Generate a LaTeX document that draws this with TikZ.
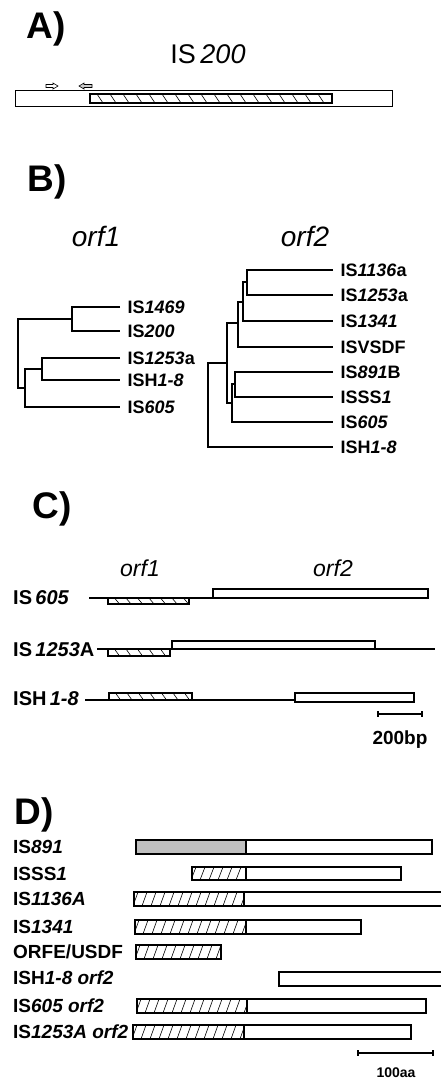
\documentclass[tikz,border=0pt]{standalone}
\usepackage{fontspec}
\setmainfont{Liberation Sans}
\usepackage{tikz}
\usetikzlibrary{positioning,calc}

\tikzset{
  panel/.style={font=\fontsize{37}{37}\selectfont\bfseries, inner sep=0pt},
  orfname/.style={font=\fontsize{28}{28}\selectfont, inner sep=0pt},
  leaf/.style={font=\fontsize{18}{18}\selectfont\bfseries, anchor=west, inner xsep=7.5pt, inner ysep=0pt, text height=13pt, text depth=0pt},
  mapname/.style={font=\fontsize{20}{20}\selectfont\bfseries, anchor=west, inner sep=0pt, text height=14.3pt, text depth=0pt},
  protname/.style={font=\fontsize{19}{19}\selectfont\bfseries, anchor=west, inner sep=0pt, text height=13.6pt, text depth=0pt},
  branch/.style={line width=1.1pt},
  gene/.style={line width=1.1pt},
  hatchline/.style={line width=0.6pt},
}

% hatched box: (x1,y1) (x2,y2), spacing, slant (+ is \, - is /)
\newcommand{\hatchbox}[6]{%
  \begin{scope}
    \clip (#1,#2) rectangle (#3,#4);
    \pgfmathsetmacro{\hfirst}{#1-abs(#6)}
    \pgfmathsetmacro{\hsecond}{\hfirst+#5}
    \pgfmathsetmacro{\hlast}{#3+abs(#6)}
    \foreach \hx in {\hfirst,\hsecond,...,\hlast}
      \draw[hatchline] (\hx,#2) -- ++(#6,#4-#2);
  \end{scope}
  \draw[gene] (#1,#2) rectangle (#3,#4);
}

\begin{document}
\begin{tikzpicture}[x=1pt,y=-1pt]
\useasboundingbox (0,0) rectangle (441,1080);

% A) IS200
\node[panel] (labA) at (46,29) {A)};
\node[orfname, font=\fontsize{27}{27}\selectfont] (is200) at (208,54) {IS\,\textit{200}};
\draw[line width=0.6pt, fill=white] (46,84.5) -- (53,84.5) -- (53,83) -- (58,86) -- (53,89) -- (53,87.5) -- (46,87.5) -- cycle;
\draw[line width=0.6pt, fill=black!20] (92,84.5) -- (84,84.5) -- (84,83) -- (79,86) -- (84,89) -- (84,87.5) -- (92,87.5) -- cycle;
\draw[gene, line width=0.9pt] (15,90) rectangle (392,106);
\hatchbox{90}{94}{332}{103}{13}{6}

% B) trees
\node[panel] (labB) at (47,182) {B)};
\node[orfname] (orf1B) at (96,236) {\itshape orf1};
\node[orfname] (orf2B) at (305,236) {\itshape orf2};

\node[leaf] (lf1469) at (120,307) {IS\textit{1469}};
\node[leaf] (lf200) at (120,331) {IS\textit{200}};
\node[leaf] (lf1253) at (120,358) {IS\textit{1253}a};
\node[leaf] (lfH18) at (120,380) {ISH\textit{1-8}};
\node[leaf] (lf605) at (120,407) {IS\textit{605}};

\coordinate (b1) at (72,319);
\coordinate (b2) at (42,369);
\coordinate (b3) at (25,388);
\coordinate (broot) at (18,353);
\draw[branch] (lf1469.west) -| (b1) |- (lf200.west);
\draw[branch] (lf1253.west) -| (b2) |- (lfH18.west);
\draw[branch] (b2) -| (b3) |- (lf605.west);
\draw[branch] (b1) -| (broot) |- (b3);

\node[leaf] (rt1136) at (333,270) {IS\textit{1136}a};
\node[leaf] (rt1253) at (333,295) {IS\textit{1253}a};
\node[leaf] (rt1341) at (333,321) {IS\textit{1341}};
\node[leaf] (rtVSDF) at (333,347) {ISVSDF};
\node[leaf] (rt891) at (333,372) {IS\textit{891}B};
\node[leaf] (rtSSS1) at (333,397) {ISSS\textit{1}};
\node[leaf] (rt605) at (333,422) {IS\textit{605}};
\node[leaf] (rtH18) at (333,447) {ISH\textit{1-8}};

\coordinate (c1) at (247,282);
\coordinate (c2) at (243,302);
\coordinate (c3) at (238,323);
\coordinate (c4) at (235,384);
\coordinate (c5) at (232,403);
\coordinate (c6) at (227,363);
\coordinate (c7) at (208,405);
\draw[branch] (rt1136.west) -| (c1) |- (rt1253.west);
\draw[branch] (c1) -| (c2) |- (rt1341.west);
\draw[branch] (c2) -| (c3) |- (rtVSDF.west);
\draw[branch] (rt891.west) -| (c4) |- (rtSSS1.west);
\draw[branch] (c4) -| (c5) |- (rt605.west);
\draw[branch] (c3) -| (c6) |- (c5);
\draw[branch] (c6) -| (c7) |- (rtH18.west);

% C) maps
\node[panel] (labC) at (52,509) {C)};
\node[orfname, font=\fontsize{23}{23}\selectfont] (orf1C) at (140,568) {\itshape orf1};
\node[orfname, font=\fontsize{23}{23}\selectfont] (orf2C) at (333,568) {\itshape orf2};

\node[mapname] (map605) at (13,597) {IS\,\textit{605}};
\draw[gene] (89,598) -- (213,598);
\hatchbox{108}{598}{189}{604}{11.5}{5}
\draw[gene] (213,589) rectangle (428,598);

\node[mapname] (map1253) at (13,649) {IS\,\textit{1253}A};
\draw[gene] (97,649) -- (435,649);
\hatchbox{108}{649}{170}{656}{11.5}{5}
\draw[gene] (172,641) rectangle (375,649);

\node[mapname] (mapH18) at (13,698) {ISH\,\textit{1-8}};
\draw[gene] (85,700) -- (295,700);
\hatchbox{109}{693}{192}{700}{11.5}{5}
\draw[gene] (295,693) rectangle (414,702);

\coordinate (bar200) at (400,714);
\draw[gene] (378,714) -- (422,714);
\draw[gene] (378,711) -- (378,717);
\draw[gene] (422,711) -- (422,717);
\node[font=\fontsize{19}{19}\selectfont\bfseries, inner sep=0pt, text height=13.6pt, text depth=0pt, below=17pt of bar200] (bp200) {200bp};

% D) proteins
\node[panel] (labD) at (34,815) {D)};

\node[protname] (pr891) at (13,847) {IS\textit{891}};
\draw[gene, fill=black!25] (136,840) rectangle (246,854);
\draw[gene] (246,840) rectangle (432,854);

\node[protname] (prSSS1) at (13,874) {ISSS\textit{1}};
\hatchbox{192}{867}{246}{880}{9}{-5}
\draw[gene] (246,867) rectangle (401,880);

\node[protname] (pr1136) at (13,899) {IS\textit{1136A}};
\hatchbox{134}{892}{244}{906}{9}{-5}
\draw[gene] (244,892) rectangle (443,906);

\node[protname] (pr1341) at (13,927) {IS\textit{1341}};
\hatchbox{135}{920}{246}{934}{9}{-5}
\draw[gene] (246,920) rectangle (361,934);

\node[protname] (prVSDF) at (13,952) {ORFE/USDF};
\hatchbox{136}{945}{221}{959}{9}{-5}

\node[protname] (prH18) at (13,978) {ISH\textit{1-8 orf2}};
\draw[gene] (279,972) rectangle (443,986);

\node[protname] (pr605) at (13,1006) {IS\textit{605 orf2}};
\hatchbox{137}{999}{247}{1013}{9}{-5}
\draw[gene] (247,999) rectangle (426,1013);

\node[protname] (pr1253) at (13,1032) {IS\textit{1253A orf2}};
\hatchbox{133}{1025}{244}{1039}{9}{-5}
\draw[gene] (244,1025) rectangle (411,1039);

\coordinate (bar100) at (396,1053);
\draw[gene] (358,1053) -- (433,1053);
\draw[gene] (358,1050) -- (358,1056);
\draw[gene] (433,1050) -- (433,1056);
\node[font=\fontsize{14}{14}\selectfont\bfseries, inner sep=0pt, text height=10pt, text depth=0pt, below=14pt of bar100] (aa100) {100aa};
\end{tikzpicture}
\end{document}
